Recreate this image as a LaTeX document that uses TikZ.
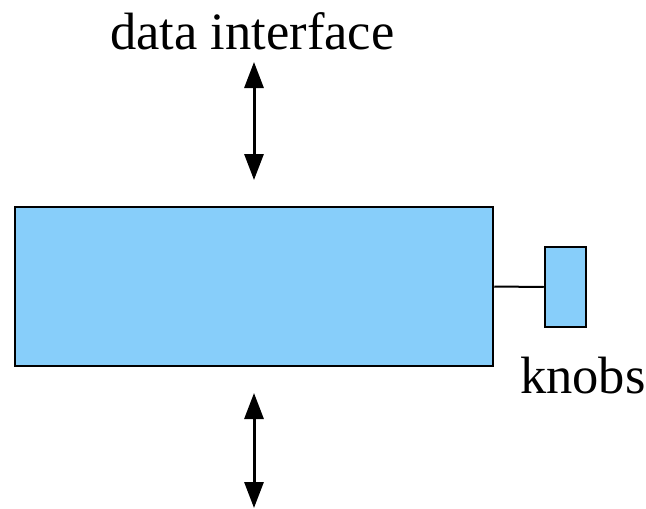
\documentclass[tikz,border=0pt]{standalone}
\usepackage{fontspec}
\setmainfont{Liberation Serif}
\usetikzlibrary{arrows.meta}
\definecolor{boxblue}{RGB}{135,206,250}
\begin{document}
\begin{tikzpicture}[x=1pt,y=-1pt,
  box/.style={draw=black, fill=boxblue, line width=2.5pt, inner sep=0pt},
  lbl/.style={inner sep=0pt, anchor=base west, font=\fontsize{52.5}{60}\selectfont},
  dblarrow/.style={line width=3pt, {Triangle[width=19pt,length=26pt]}-{Triangle[width=19pt,length=26pt]}},
  link/.style={line width=2pt}]
\useasboundingbox (0,0) rectangle (646,509);
\node[box, minimum width=478pt, minimum height=159pt] (main) at (254,286.5) {};
\node[box, minimum width=41pt, minimum height=80pt] (knob) at (565.5,287) {};
\node[lbl] (data) at (110,49) {data interface};
\node[lbl] (knobs) at (520,393) {knobs};
\coordinate (t1) at (254,62);
\coordinate (t2) at (254,180);
\coordinate (b1) at (254,393);
\coordinate (b2) at (254,508);
\draw[dblarrow] (t1) -- (t2);
\draw[dblarrow] (b1) -- (b2);
\draw[link] (main.east) -- (knob.west);
\end{tikzpicture}
\end{document}
